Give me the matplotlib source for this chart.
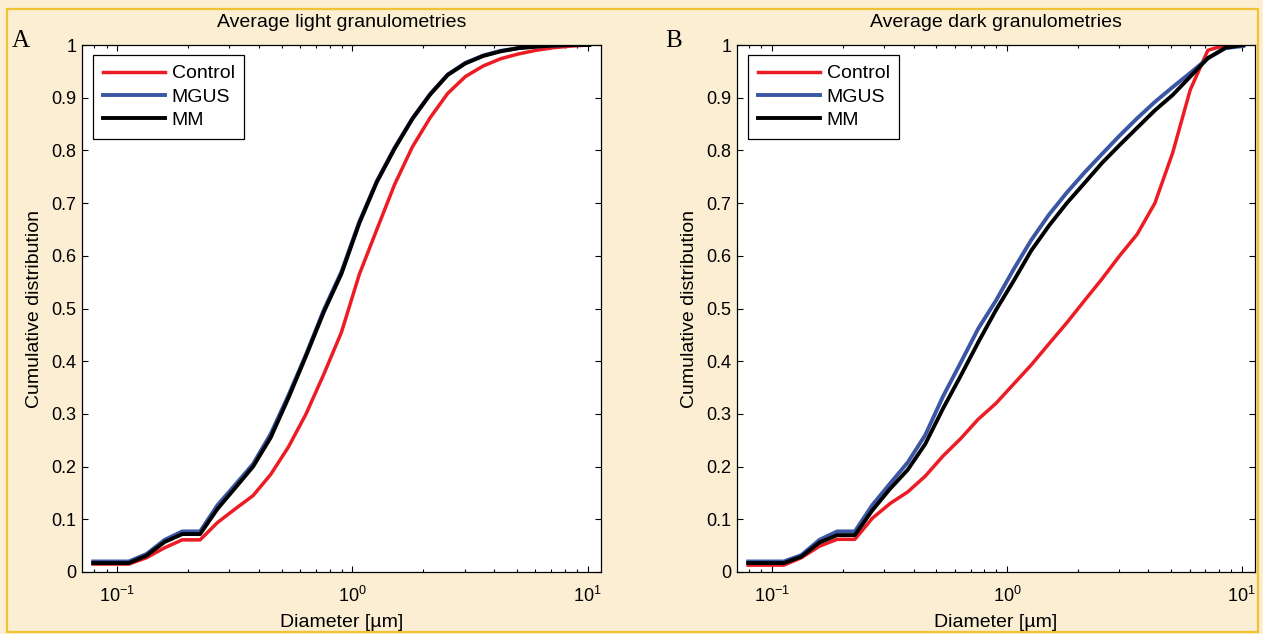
import matplotlib
matplotlib.use("Agg")
import matplotlib.pyplot as plt
from matplotlib.ticker import FixedLocator, NullFormatter, LogLocator
from matplotlib.patches import Rectangle

plt.rcParams['font.family'] = ['Liberation Sans', 'DejaVu Sans']
plt.rcParams['mathtext.fontset'] = 'custom'
plt.rcParams['mathtext.rm'] = 'Liberation Sans'
plt.rcParams['mathtext.it'] = 'Liberation Sans:italic'

# ---------------- data ----------------
diameter = [0.079, 0.094, 0.112, 0.133, 0.159, 0.189, 0.225, 0.267, 0.318, 0.378,
            0.449, 0.534, 0.635, 0.755, 0.898, 1.07, 1.27, 1.51, 1.80, 2.14,
            2.54, 3.02, 3.59, 4.27, 5.08, 6.04, 7.18, 8.54, 10.16]

light_control = [0.015, 0.015, 0.015, 0.027, 0.046, 0.061, 0.061, 0.094, 0.120, 0.145,
                 0.185, 0.237, 0.300, 0.375, 0.455, 0.565, 0.650, 0.735, 0.807, 0.862,
                 0.908, 0.940, 0.960, 0.974, 0.983, 0.990, 0.995, 0.998, 1.000]
light_mgus = [0.020, 0.020, 0.020, 0.034, 0.061, 0.077, 0.077, 0.127, 0.166, 0.205,
              0.262, 0.335, 0.413, 0.497, 0.570, 0.665, 0.742, 0.805, 0.861, 0.907,
              0.944, 0.966, 0.980, 0.989, 0.994, 0.997, 0.999, 1.000, 1.000]
light_mm = [0.017, 0.017, 0.017, 0.031, 0.057, 0.072, 0.072, 0.120, 0.160, 0.200,
            0.255, 0.330, 0.410, 0.493, 0.566, 0.662, 0.740, 0.803, 0.860, 0.906,
            0.943, 0.965, 0.979, 0.988, 0.994, 0.997, 0.999, 1.000, 1.000]

dark_control = [0.013, 0.013, 0.013, 0.027, 0.049, 0.062, 0.062, 0.102, 0.130, 0.152,
                0.182, 0.220, 0.253, 0.290, 0.320, 0.357, 0.393, 0.433, 0.473, 0.515,
                0.556, 0.600, 0.641, 0.700, 0.795, 0.915, 0.990, 1.000, 1.000]
dark_mgus = [0.020, 0.020, 0.020, 0.032, 0.061, 0.077, 0.077, 0.127, 0.168, 0.208,
             0.260, 0.333, 0.397, 0.462, 0.515, 0.575, 0.630, 0.678, 0.720, 0.758,
             0.793, 0.828, 0.861, 0.892, 0.920, 0.947, 0.975, 0.994, 0.998]
dark_mm = [0.017, 0.017, 0.017, 0.029, 0.056, 0.070, 0.070, 0.117, 0.158, 0.194,
           0.243, 0.310, 0.372, 0.436, 0.497, 0.553, 0.610, 0.657, 0.700, 0.738,
           0.776, 0.810, 0.843, 0.876, 0.905, 0.940, 0.975, 0.995, 1.000]

series_names = ['Control', 'MGUS', 'MM']
series_colors = ['#ED1C24', '#3A56A5', '#000000']
series_widths = [2.5, 2.8, 2.8]
titles = ['Average light granulometries', 'Average dark granulometries']
panel_letters = ['A', 'B']
yticks = [0, 0.1, 0.2, 0.3, 0.4, 0.5, 0.6, 0.7, 0.8, 0.9, 1]
ytick_labels = ['0', '0.1', '0.2', '0.3', '0.4', '0.5', '0.6', '0.7', '0.8', '0.9', '1']
xticks = [0.1, 1, 10]
xlabel = 'Diameter [µm]'
ylabel = 'Cumulative distribution'

# ---------------- figure ----------------
bg = '#FBEED3'
fig = plt.figure(figsize=(12.63, 6.34), dpi=100, facecolor=bg)
fig.patches.append(Rectangle((7 / 1263, 1 - 632 / 634), 1251 / 1263, 623 / 634,
                             transform=fig.transFigure, fill=False,
                             edgecolor='#F1C232', linewidth=1.6, zorder=0))

positions = [[82 / 1263, 62 / 634, 519 / 1263, 527 / 634],
             [737 / 1263, 62 / 634, 518 / 1263, 527 / 634]]
panels = [(light_control, light_mgus, light_mm), (dark_control, dark_mgus, dark_mm)]

for i in range(2):
    ax = fig.add_axes(positions[i])
    ax.set_facecolor('white')
    for vals, name, col, lw in zip(panels[i], series_names, series_colors, series_widths):
        ax.plot(diameter, vals, color=col, lw=lw, label=name)
    ax.set_xscale('log')
    ax.set_xlim(0.0708, 11.4)
    ax.set_ylim(0, 1)
    ax.xaxis.set_major_locator(FixedLocator(xticks))
    ax.xaxis.set_minor_locator(LogLocator(base=10, subs=range(2, 10)))
    ax.xaxis.set_minor_formatter(NullFormatter())
    ax.set_yticks(yticks)
    ax.set_yticklabels(ytick_labels)
    ax.tick_params(which='both', direction='in', top=True, right=True,
                   labelsize=13, width=0.8, colors='black')
    ax.tick_params(which='major', length=4.5)
    ax.tick_params(which='minor', length=2.5)
    ax.tick_params(axis='y', pad=4)
    ax.tick_params(axis='x', pad=10)
    for sp in ax.spines.values():
        sp.set_linewidth(0.9)
    ax.set_xlabel(xlabel, fontsize=14, labelpad=6)
    ax.set_ylabel(ylabel, fontsize=14, labelpad=6)
    ax.set_title(titles[i], fontsize=14, pad=13)
    leg = ax.legend(loc='upper left', bbox_to_anchor=(0.021, 0.981),
                    borderaxespad=0, fancybox=False, edgecolor='black',
                    framealpha=1, fontsize=14, handlelength=3.2,
                    handletextpad=0.35, labelspacing=0.3, borderpad=0.5)
    leg.get_frame().set_linewidth(0.9)
    x_letter = [12 / 1263, 665 / 1263][i]
    fig.text(x_letter, 1 - 41 / 634, panel_letters[i], fontsize=18,
             family=['Liberation Serif', 'DejaVu Serif'], va='center', ha='left')

fig.savefig('out.png', dpi=100, facecolor=bg)
